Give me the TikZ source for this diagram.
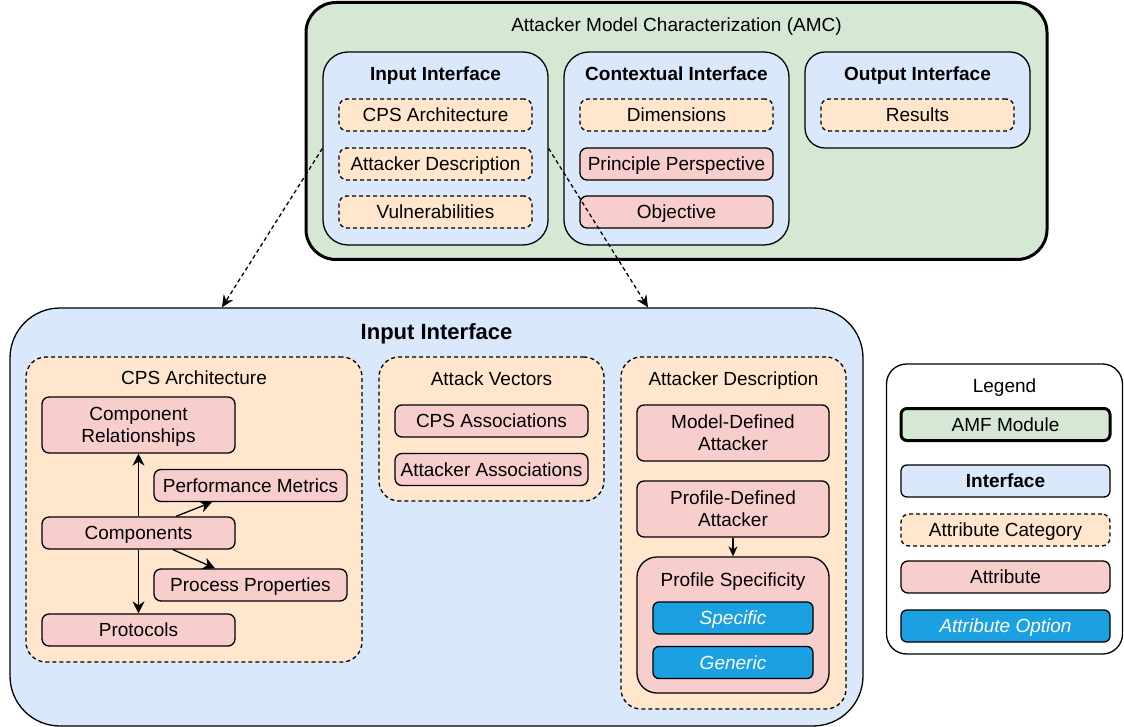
\documentclass[tikz,border=0pt]{standalone}
\usepackage{fontspec}
\setmainfont{Liberation Sans}
\usetikzlibrary{arrows.meta}
\definecolor{cgreen}{HTML}{D5E8D4}
\definecolor{cblue}{HTML}{DAE8FC}
\definecolor{corange}{HTML}{FFE6CC}
\definecolor{cred}{HTML}{F8CECC}
\definecolor{copt}{HTML}{1BA1E2}
\tikzset{
 base/.style={draw=black, line width=1.3pt, inner sep=0pt, align=center, text depth=0pt, font=\fontsize{19}{22}\selectfont},
 module/.style={base, fill=cgreen, line width=3pt, rounded corners=30pt},
 iface/.style={base, fill=cblue, rounded corners=25pt},
 category/.style={base, fill=corange, dash pattern=on 4pt off 3pt, rounded corners=8pt},
 bigcat/.style={category, rounded corners=20pt},
 attr/.style={base, fill=cred, rounded corners=7pt},
 option/.style={base, fill=copt, text=white, font=\fontsize{19}{22}\selectfont\itshape, rounded corners=6pt},
 ttl/.style={inner sep=0pt, text depth=0pt, font=\fontsize{19}{22}\selectfont},
 bttl/.style={inner sep=0pt, text depth=0pt, font=\fontsize{19}{22}\selectfont\bfseries},
 arr/.style={line width=1.3pt, -{Stealth[length=12pt,width=12pt]}},
 darr/.style={line width=1.3pt, dash pattern=on 4pt off 3pt, -{Stealth[length=12pt,width=11pt]}},
}
\begin{document}
\begin{tikzpicture}[x=1pt,y=-1pt]
\useasboundingbox (0,0) rectangle (1124,727);
% AMC module
\node[module, minimum width=741pt, minimum height=257pt] (amc) at (676.5,131) {};
\node[ttl] (amct) at (676.5,25) {Attacker Model Characterization (AMC)};
\node[iface, minimum width=225pt, minimum height=193pt] (ii) at (435.5,148.5) {};
\node[bttl] (iit) at (435.5,73.5) {Input Interface};
\node[category, minimum width=193pt, minimum height=32pt] (iicps) at (435.5,115) {CPS Architecture};
\node[category, minimum width=193pt, minimum height=32pt] (iiad) at (435.5,164) {Attacker Description};
\node[category, minimum width=193pt, minimum height=32pt] (iivu) at (435.5,212) {Vulnerabilities};
\node[iface, minimum width=225pt, minimum height=193pt] (ci) at (676.5,148.5) {};
\node[bttl] (cit) at (676.5,73.5) {Contextual Interface};
\node[category, minimum width=193pt, minimum height=32pt] (cidim) at (676.5,115) {Dimensions};
\node[attr, minimum width=193pt, minimum height=32pt] (cipp) at (676.5,164) {Principle Perspective};
\node[attr, minimum width=193pt, minimum height=32pt] (ciob) at (676.5,212) {Objective};
\node[iface, minimum width=225pt, minimum height=96pt, rounded corners=20pt] (oi) at (917.5,100) {};
\node[bttl] (oit) at (917.5,73.5) {Output Interface};
\node[category, minimum width=193pt, minimum height=32pt] (oires) at (917.5,115) {Results};
% big input interface
\node[iface, minimum width=853pt, minimum height=418pt, rounded corners=50pt] (big) at (436.5,517) {};
\node[inner sep=0pt, text depth=0pt, font=\fontsize{22}{26}\selectfont\bfseries] (bigt) at (436.5,332) {Input Interface};
% CPS architecture
\node[bigcat, minimum width=336pt, minimum height=305pt] (cps) at (194,509.5) {};
\node[ttl] (cpst) at (194,378) {CPS Architecture};
\node[attr, minimum width=193pt, minimum height=56pt] (crel) at (138.5,425) {Component\\Relationships};
\node[attr, minimum width=193pt, minimum height=32pt] (perf) at (250.5,485.5) {Performance Metrics};
\node[attr, minimum width=193pt, minimum height=32pt] (comp) at (138.5,533) {Components};
\node[attr, minimum width=193pt, minimum height=32pt] (proc) at (250.5,585) {Process Properties};
\node[attr, minimum width=193pt, minimum height=32pt] (prot) at (138.5,630) {Protocols};
\draw[arr] (comp) -- (crel);
\draw[arr] (comp) -- (prot);
\draw[arr] ([xshift=37.5pt]comp.north) -- ([xshift=-38.5pt]perf.south);
\draw[arr] ([xshift=34.5pt]comp.south) -- ([xshift=-35.5pt]proc.north);
% attack vectors
\node[bigcat, minimum width=225pt, minimum height=144pt] (av) at (491.5,429) {};
\node[ttl] (avt) at (491.5,378.5) {Attack Vectors};
\node[attr, minimum width=193pt, minimum height=32pt] (cpsa) at (491.5,421) {CPS Associations};
\node[attr, minimum width=193pt, minimum height=32pt] (atta) at (491.5,469.5) {Attacker Associations};
% attacker description
\node[bigcat, minimum width=225pt, minimum height=352pt] (ad) at (733.5,533) {};
\node[ttl] (adt) at (733.5,378.5) {Attacker Description};
\node[attr, minimum width=192pt, minimum height=56pt] (mda) at (733,433) {Model-Defined\\Attacker};
\node[attr, minimum width=192pt, minimum height=56pt] (pda) at (733,509) {Profile-Defined\\Attacker};
\node[attr, minimum width=192pt, minimum height=136pt, rounded corners=20pt] (ps) at (733,625) {};
\node[ttl] (pst) at (733,579.5) {Profile Specificity};
\node[option, minimum width=160pt, minimum height=32pt] (spec) at (733,618) {Specific};
\node[option, minimum width=160pt, minimum height=32pt] (gen) at (733,662.5) {Generic};
\draw[line width=1.3pt, -{Stealth[length=10pt,width=9pt]}] (pda) -- (ps);
% dashed links
\draw[darr] (ii.west) -- ([xshift=-214.5pt]big.north);
\draw[darr] (ii.east) -- ([xshift=211.5pt]big.north);
% legend
\node[base, fill=white, minimum width=236pt, minimum height=290pt, rounded corners=20pt] (leg) at (1004.5,509) {};
\node[ttl] (legt) at (1004.5,386) {Legend};
\node[module, minimum width=209pt, minimum height=32pt, rounded corners=6pt] (lamf) at (1005.5,424.5) {AMF Module};
\node[iface, minimum width=209pt, minimum height=32pt, rounded corners=6pt, font=\fontsize{19}{22}\selectfont\bfseries] (lif) at (1005.5,481) {Interface};
\node[category, minimum width=209pt, minimum height=32pt] (lcat) at (1005.5,530) {Attribute Category};
\node[attr, minimum width=209pt, minimum height=32pt] (lattr) at (1005.5,577) {Attribute};
\node[option, minimum width=209pt, minimum height=32pt] (lopt) at (1005.5,626) {Attribute Option};
\end{tikzpicture}
\end{document}
